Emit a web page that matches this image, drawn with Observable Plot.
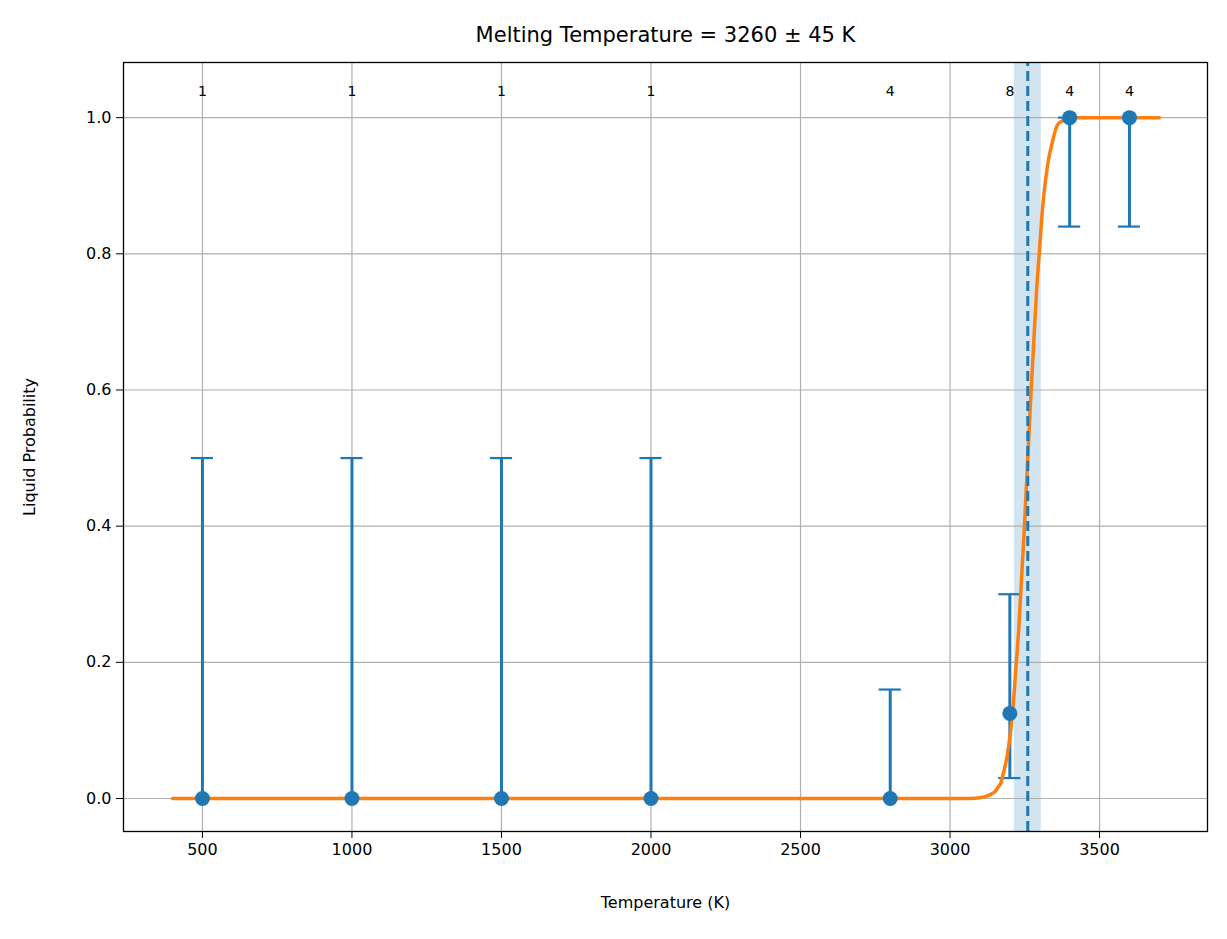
<!DOCTYPE html>
<html><head><meta charset="utf-8">
<script src="https://cdn.jsdelivr.net/npm/d3@7"></script>
<script src="https://cdn.jsdelivr.net/npm/@observablehq/plot@0.6"></script>
<style>body{margin:0;background:#fff;font-family:"DejaVu Sans",sans-serif}</style>
</head><body><div id="c"></div>
<script>
const temps = [500,1000,1500,2000,2800,3200,3400,3600];
const probs = [0,0,0,0,0,0.125,1,1];
const errHi = [0.5,0.5,0.5,0.5,0.16,0.3,1,1];
const errLo = [0,0,0,0,0,0.03,0.84,0.84];
const counts = [1,1,1,1,4,8,4,4];
const curveT = [400,1000,2000,3000,3050,3080,3100,3120,3140,3150,3160,3170,3180,3190,3200,3210,3220,3230,3240,3250,3260,3270,3280,3290,3300,3310,3320,3330,3340,3360,3380,3400,3500,3700];
const curveP = [0,0,0,0,0.0001,0.0004,0.001,0.003,0.007,0.01,0.016,0.023,0.04,0.06,0.09,0.13,0.19,0.25,0.33,0.41,0.5,0.59,0.67,0.75,0.81,0.87,0.91,0.94,0.96,0.99,0.996,1,1,1];
const meltT = 3260, meltErr = 45;
const xTicks = [500,1000,1500,2000,2500,3000,3500];
const yTicks = [0,0.2,0.4,0.6,0.8,1.0];

const pts = temps.map((t,i)=>({t, p:probs[i], hi:errHi[i], lo:errLo[i], n:counts[i]}));
const curve = curveT.map((t,i)=>({t, p:curveP[i]}));
const blue = "#1f77b4", orange = "#ff7f0e";
const cap = 37;

const chart = Plot.plot({
  width:1227, height:939,
  marginLeft:123, marginRight:20, marginTop:62, marginBottom:108,
  style:{fontFamily:"DejaVu Sans, sans-serif", fontSize:"16px", background:"#fff"},
  x:{domain:[236,3861]},
  y:{domain:[-0.0485,1.081]},
  marks:[
    Plot.rectX([{a:meltT-meltErr,b:meltT+meltErr}],{x1:"a",x2:"b",y1:-0.0485,y2:1.081,fill:blue,fillOpacity:0.2}),
    Plot.gridX(xTicks,{stroke:"#b0b0b0",strokeOpacity:1,strokeWidth:1.2}),
    Plot.gridY(yTicks,{stroke:"#b0b0b0",strokeOpacity:1,strokeWidth:1.2}),
    Plot.axisX(xTicks,{tickFormat:d=>String(d),tickSize:7,tickPadding:5,fontSize:16,label:"Temperature (K)",labelAnchor:"center",labelArrow:"none",labelOffset:76}),
    Plot.axisY(yTicks,{tickFormat:d3.format(".1f"),tickSize:7,tickPadding:5,fontSize:16,label:"Liquid Probability",labelAnchor:"center",labelArrow:"none",labelOffset:100}),
    Plot.ruleX(pts,{x:"t",y1:"lo",y2:"hi",stroke:blue,strokeWidth:3}),
    Plot.ruleY(pts,{y:"hi",x1:d=>d.t-cap,x2:d=>d.t+cap,stroke:blue,strokeWidth:2.2}),
    Plot.ruleY(pts,{y:"lo",x1:d=>d.t-cap,x2:d=>d.t+cap,stroke:blue,strokeWidth:2.2}),
    Plot.line(curve,{x:"t",y:"p",stroke:orange,strokeWidth:3.5,curve:"monotone-x"}),
    Plot.ruleX([meltT],{y1:-0.0485,y2:1.081,stroke:blue,strokeWidth:3,strokeDasharray:"10,5"}),
    Plot.dot(pts,{x:"t",y:"p",r:7.5,fill:blue,stroke:null}),
    Plot.text(pts,{x:"t",y:1.038,text:d=>String(d.n),fontSize:14,fill:"#000"}),
    Plot.text(["Melting Temperature = 3260 ± 45 K"],{frameAnchor:"top",dy:-35,fontSize:21,fill:"#000"}),
    Plot.frame({stroke:"#000",strokeWidth:1.3})
  ]
});
document.getElementById("c").appendChild(chart);
</script></body></html>
